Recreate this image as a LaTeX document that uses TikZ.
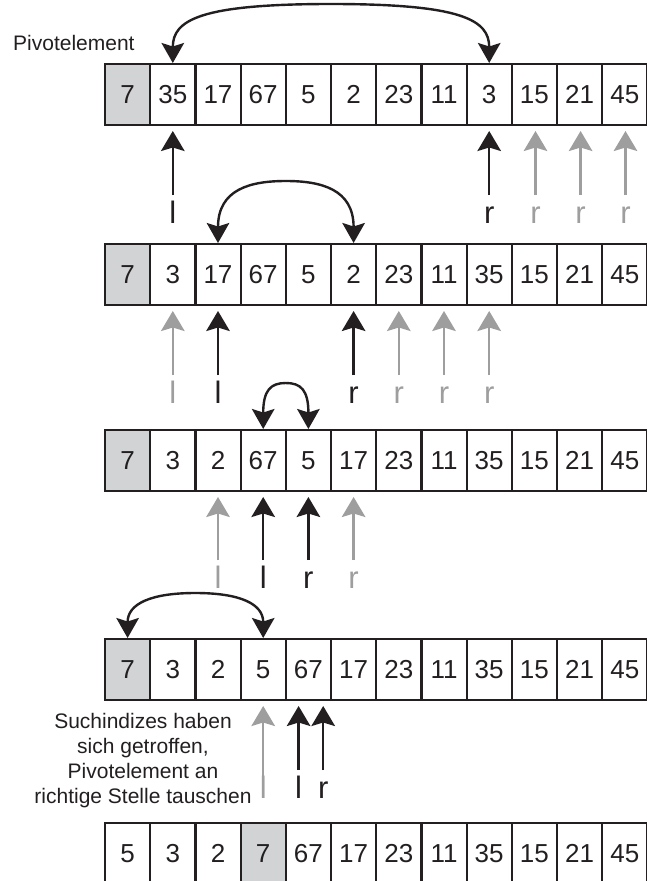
\documentclass[tikz,border=0pt]{standalone}
\usepackage{fontspec}
\setmainfont{Liberation Sans}
\usetikzlibrary{arrows.meta,calc}

\definecolor{ink}{RGB}{35,31,32}
\definecolor{pivotgrey}{RGB}{209,211,212}
\definecolor{ghost}{RGB}{158,158,158}

\tikzset{
  cell/.style={draw=ink, line width=2.2pt, minimum width=45.2pt, minimum height=61pt,
    inner sep=0pt, outer sep=0pt, text=ink, font=\fontsize{26}{26}\selectfont},
  pivotcell/.style={cell, fill=pivotgrey},
  outerframe/.style={draw=ink, line width=2.8pt},
  lbl/.style={inner sep=0pt, anchor=base, text height=22.2pt, text depth=0pt,
    font=\fontsize{31}{31}\selectfont},
  up/.style={line width=2.4pt, -{Stealth[length=20pt, width=23.5pt, inset=3.5pt]},
    shorten <=5.5pt, shorten >=6pt},
  swaparc/.style={draw=ink, line width=2.4pt,
    {Stealth[length=20pt, width=22.5pt, inset=3.5pt]}-{Stealth[length=20pt, width=22.5pt, inset=3.5pt]},
    shorten <=1pt, shorten >=1pt},
  note/.style={inner sep=0pt, text=ink, font=\fontsize{21}{25}\selectfont}
}

% one row of the array: name, vertical centre, index of the pivot cell, values
\newcommand\arrayrow[4]{%
  \foreach \v [count=\i from 0] in {#4} {
    \ifnum\i=#3 \def\zellstil{pivotcell}\else\def\zellstil{cell}\fi
    \node[\zellstil] (#1c\i) at ({105+45.2*(\i+0.5)},#2) {\v};
  }
  \draw[outerframe] (#1c0.north west) rectangle (#1c11.south east);
}

% search index: [extra arrow options] name, x, baseline, letter, colour, target cell
\newcommand\pointer[7][]{%
  \node[lbl, text=#6] (#2) at (#3,#4) {#5};
  \draw[up, draw=#6, #1] (#2.north) -- (#2.north |- #7.south);
}

\begin{document}
\begin{tikzpicture}[x=1pt, y=-1pt]
  \useasboundingbox (0,0) rectangle (646,881);

  \node[note, anchor=base west] (pivlabel) at (13,50) {Pivotelement};

  % the five states of the array
  \arrayrow{ra}{94.5}{0}{7,35,17,67,5,2,23,11,3,15,21,45}
  \arrayrow{rb}{274.5}{0}{7,3,17,67,5,2,23,11,35,15,21,45}
  \arrayrow{rc}{460.5}{0}{7,3,2,67,5,17,23,11,35,15,21,45}
  \arrayrow{rd}{669.5}{0}{7,3,2,5,67,17,23,11,35,15,21,45}
  \arrayrow{re}{853.5}{3}{5,3,2,7,67,17,23,11,35,15,21,45}

  % swaps
  \coordinate (ma) at ($(rac1.north)!0.5!(rac8.north)+(0,-60)$);
  \draw[swaparc] (rac1.north) .. controls +(0,-44) and +(-131,0) .. (ma)
                 .. controls +(131,0) and +(0,-44) .. (rac8.north);
  \coordinate (mb) at ($(rbc2.north)!0.5!(rbc5.north)+(0,-63)$);
  \draw[swaparc] (rbc2.north) .. controls +(0,-55) and +(-35,0) .. (mb)
                 .. controls +(35,0) and +(0,-55) .. (rbc5.north);
  \coordinate (mc) at ($(rcc3.north)!0.5!(rcc4.north)+(0,-47)$);
  \draw[swaparc] (rcc3.north) .. controls +(0,-40) and +(-15,0) .. (mc)
                 .. controls +(15,0) and +(0,-40) .. (rcc4.north);
  \coordinate (md) at ($(rdc0.north)!0.5!(rdc3.north)+(0,-46)$);
  \draw[swaparc] (rdc0.north) .. controls +(0,-35) and +(-45,0) .. (md)
                 .. controls +(45,0) and +(0,-35) .. (rdc3.north);

  % search indices, first pass
  \pointer{pa1}{172.8}{223}{l}{ink}{rac1}
  \pointer{pa2}{489.2}{223}{r}{ink}{rac8}
  \pointer{pa3}{535.5}{223}{r}{ghost}{rac9}
  \pointer{pa4}{580.6}{223}{r}{ghost}{rac10}
  \pointer{pa5}{625.5}{223}{r}{ghost}{rac11}

  % second pass
  \pointer{pb1}{172.8}{403}{l}{ghost}{rbc1}
  \pointer{pb2}{218}{403}{l}{ink}{rbc2}
  \pointer{pb3}{353.6}{403}{r}{ink}{rbc5}
  \pointer{pb4}{398.8}{403}{r}{ghost}{rbc6}
  \pointer{pb5}{444}{403}{r}{ghost}{rbc7}
  \pointer{pb6}{489.2}{403}{r}{ghost}{rbc8}

  % third pass
  \pointer{pc1}{218}{588}{l}{ghost}{rcc2}
  \pointer{pc2}{263.2}{588}{l}{ink}{rcc3}
  \pointer{pc3}{308.4}{588}{r}{ink}{rcc4}
  \pointer{pc4}{353.6}{588}{r}{ghost}{rcc5}

  % indices have met
  \pointer[shorten <=0pt]{pd1}{263.2}{798}{l}{ghost}{rdc3}
  \pointer{pd2}{298.6}{798}{l}{ink}{rdc4}
  \pointer{pd3}{323.2}{798}{r}{ink}{rdc4}

  \node[note, anchor=north, align=center] (remark) at (143,712.7)
    {Suchindizes haben\\sich getroffen,\\Pivotelement an\\richtige Stelle tauschen};
\end{tikzpicture}
\end{document}
